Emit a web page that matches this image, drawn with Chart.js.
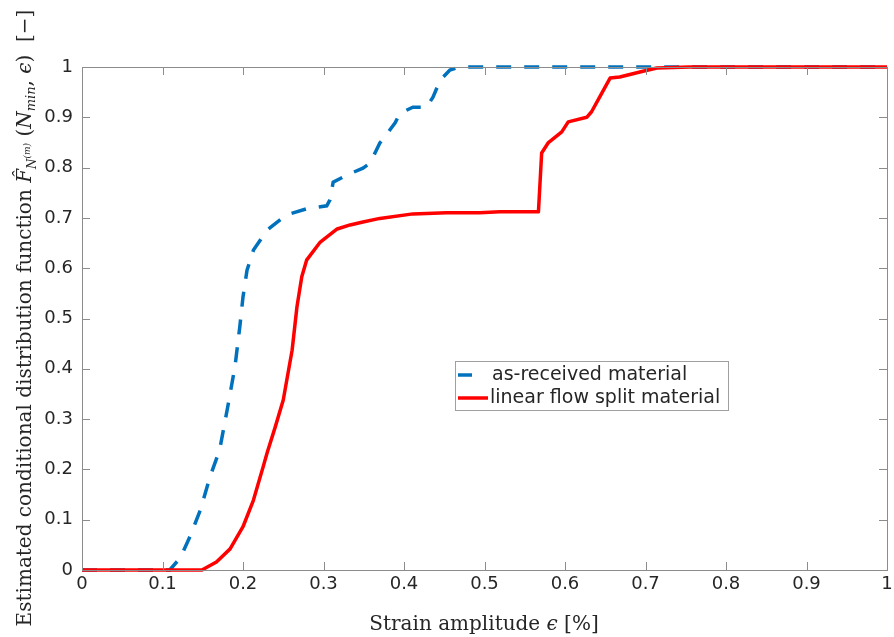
<!DOCTYPE html>
<html>
<head>
<meta charset="utf-8">
<script src="https://cdn.jsdelivr.net/npm/chart.js@4"></script>
<style>
  body { margin: 0; background: #fff; }
  #wrap { width: 894px; height: 637px; }
</style>
</head>
<body>
<div id="wrap"><canvas id="cdfChart"></canvas></div>
<script>
// as-received material (dashed blue)
const blueX = [0, 0.109, 0.122, 0.134, 0.147, 0.159, 0.171, 0.181, 0.190, 0.196, 0.200, 0.205, 0.213, 0.230, 0.254, 0.279, 0.304, 0.308, 0.312, 0.329, 0.349, 0.358, 0.370, 0.376, 0.389, 0.395, 0.411, 0.428, 0.436, 0.445, 0.457, 0.470, 1];
const blueY = [0, 0, 0.024, 0.066, 0.119, 0.185, 0.239, 0.324, 0.404, 0.483, 0.543, 0.596, 0.636, 0.676, 0.706, 0.718, 0.724, 0.736, 0.771, 0.785, 0.799, 0.809, 0.849, 0.861, 0.889, 0.908, 0.920, 0.920, 0.940, 0.974, 0.994, 1, 1];

// linear flow split material (solid red)
const redX = [0, 0.149, 0.167, 0.184, 0.200, 0.213, 0.225, 0.230, 0.240, 0.250, 0.261, 0.267, 0.273, 0.279, 0.296, 0.317, 0.333, 0.349, 0.370, 0.411, 0.453, 0.494, 0.519, 0.567, 0.571, 0.579, 0.596, 0.604, 0.627, 0.633, 0.643, 0.656, 0.668, 0.693, 0.714, 0.755, 1];
const redY = [0, 0, 0.016, 0.042, 0.086, 0.139, 0.205, 0.233, 0.284, 0.338, 0.437, 0.523, 0.583, 0.616, 0.652, 0.678, 0.686, 0.692, 0.699, 0.708, 0.710, 0.710, 0.712, 0.712, 0.829, 0.849, 0.871, 0.891, 0.900, 0.911, 0.940, 0.978, 0.980, 0.990, 0.998, 1, 1];

const seriesLabels = ['as-received material', 'linear flow split material'];

const toPoints = (xs, ys) => xs.map((x, i) => ({ x, y: ys[i] }));
const fmtTick = v => String(Number(v.toFixed(1)));

const AXIS = '#8c8c8c';
const TEXT = '#262626';
const SERIF = '"DejaVu Serif", "Liberation Serif", serif';

// draw a run of text pieces (normal / italic / sub) starting at x, baseline y
function drawRuns(ctx, runs, x, y) {
  runs.forEach(r => {
    ctx.font = r.f;
    ctx.fillText(r.t, x, y + (r.dy || 0));
    x += ctx.measureText(r.t).width;
  });
}
function runsWidth(ctx, runs) {
  return runs.reduce((w, r) => { ctx.font = r.f; return w + ctx.measureText(r.t).width; }, 0);
}

const yTitle = [
  { t: 'Estimated conditional distribution function ', f: '20px ' + SERIF },
  { t: 'F\u0302', f: 'italic 20px ' + SERIF },
  { t: 'N', f: 'italic 12px ' + SERIF, dy: 5 },
  { t: '(m)', f: 'italic 9px ' + SERIF, dy: -1 },
  { t: ' (', f: '20px ' + SERIF },
  { t: 'N', f: 'italic 20px ' + SERIF },
  { t: 'min', f: 'italic 13px ' + SERIF, dy: 4 },
  { t: ', ', f: '20px ' + SERIF },
  { t: '\u03f5', f: 'italic 20px ' + SERIF },
  { t: ')  [\u2212]', f: '20px ' + SERIF },
];
const xTitle = [
  { t: 'Strain amplitude ', f: '20px ' + SERIF },
  { t: '\u03f5', f: 'italic 20px ' + SERIF },
  { t: ' [%]', f: '20px ' + SERIF },
];

const framePlugin = {
  id: 'frame',
  afterDraw(chart) {
    const { ctx, chartArea: a, scales: { x, y } } = chart;
    ctx.save();
    ctx.strokeStyle = AXIS;
    ctx.lineWidth = 1;
    ctx.beginPath();
    x.ticks.forEach(t => {
      const px = Math.round(x.getPixelForValue(t.value)) + 0.5;
      ctx.moveTo(px, a.bottom); ctx.lineTo(px, a.bottom - 8);
      ctx.moveTo(px, a.top); ctx.lineTo(px, a.top + 8);
    });
    y.ticks.forEach(t => {
      const py = Math.round(y.getPixelForValue(t.value)) + 0.5;
      ctx.moveTo(a.left, py); ctx.lineTo(a.left + 8, py);
      ctx.moveTo(a.right, py); ctx.lineTo(a.right - 8, py);
    });
    ctx.stroke();
    ctx.strokeRect(Math.round(a.left) + 0.5, Math.round(a.top) + 0.5,
      Math.round(a.right - a.left), Math.round(a.bottom - a.top));

    // axis titles
    ctx.fillStyle = TEXT;
    ctx.textBaseline = 'alphabetic';
    ctx.textAlign = 'left';
    const xw = runsWidth(ctx, xTitle);
    drawRuns(ctx, xTitle, 484 - xw / 2, 630);

    ctx.save();
    ctx.translate(31, 318);
    ctx.rotate(-Math.PI / 2);
    const yw = runsWidth(ctx, yTitle);
    drawRuns(ctx, yTitle, -yw / 2, 0);
    ctx.restore();

    // legend box
    const lx = 455, ly = 361, lw = 273, lh = 49;
    ctx.fillStyle = '#fff';
    ctx.fillRect(lx, ly, lw, lh);
    ctx.strokeStyle = '#a0a0a0';
    ctx.strokeRect(lx + 0.5, ly + 0.5, lw, lh);
    const ds = chart.data.datasets;
    ctx.lineWidth = 3.5;
    ctx.strokeStyle = ds[0].borderColor;
    ctx.beginPath(); ctx.moveTo(458, 375); ctx.lineTo(472, 375); ctx.stroke();
    ctx.strokeStyle = ds[1].borderColor;
    ctx.beginPath(); ctx.moveTo(458, 398); ctx.lineTo(488, 398); ctx.stroke();
    ctx.fillStyle = TEXT;
    ctx.font = '19px "DejaVu Sans"';
    ctx.textBaseline = 'middle';
    ctx.fillText(ds[0].label, 492, 375);
    ctx.fillText(ds[1].label, 490, 398);
    ctx.restore();
  }
};

new Chart(document.getElementById('cdfChart'), {
  type: 'line',
  data: {
    datasets: [
      {
        label: seriesLabels[0],
        data: toPoints(blueX, blueY),
        borderColor: '#0072BD',
        borderWidth: 3.5,
        borderDash: [15, 13],
        pointRadius: 0,
        tension: 0,
        clip: 4,
        order: 1,
      },
      {
        label: seriesLabels[1],
        data: toPoints(redX, redY),
        borderColor: '#FF0000',
        borderWidth: 3.5,
        borderJoinStyle: 'round',
        pointRadius: 0,
        tension: 0,
        clip: 4,
        order: 0,
      },
    ],
  },
  options: {
    responsive: true,
    maintainAspectRatio: false,
    animation: false,
    layout: { padding: { top: 67, right: 7, left: 0, bottom: 0 } },
    plugins: { legend: { display: false }, tooltip: { enabled: false } },
    scales: {
      x: {
        type: 'linear',
        min: 0,
        max: 1,
        grid: { display: false, drawTicks: false },
        border: { display: false },
        ticks: { stepSize: 0.1, padding: 4, color: TEXT, font: { family: 'DejaVu Sans', size: 18 }, maxRotation: 0, callback: fmtTick },
        afterFit: s => { s.height = 67; s.paddingLeft = 0; s.paddingRight = 0; },
      },
      y: {
        min: 0,
        max: 1,
        grid: { display: false, drawTicks: false },
        border: { display: false },
        ticks: { stepSize: 0.1, padding: 9, color: TEXT, font: { family: 'DejaVu Sans', size: 18 }, callback: fmtTick },
        afterFit: s => { s.width = 82; s.paddingTop = 0; s.paddingBottom = 0; },
      },
    },
  },
  plugins: [framePlugin],
});
</script>
</body>
</html>
